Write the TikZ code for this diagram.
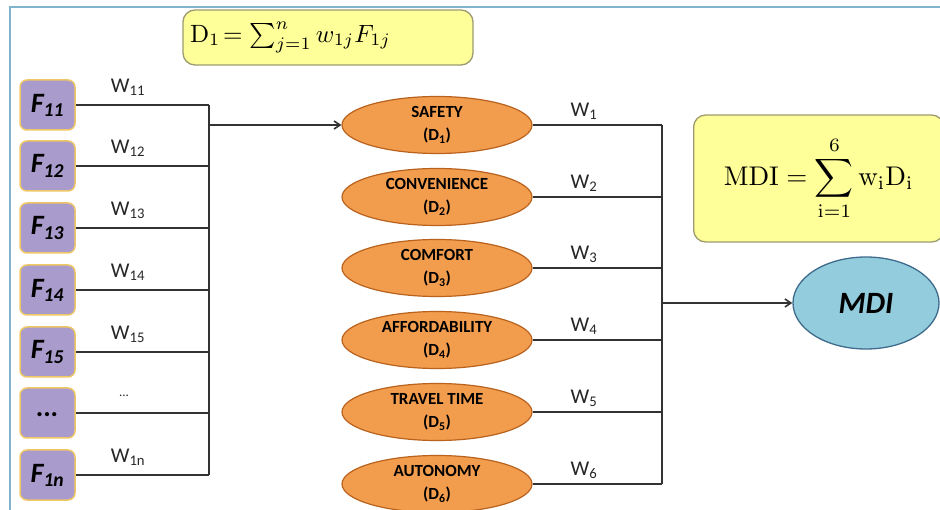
\documentclass[tikz,border=0pt]{standalone}
\usepackage{amsmath}
\usepackage[no-math]{fontspec}
\setmainfont{Carlito}
\usetikzlibrary{shapes.geometric,arrows.meta}
\definecolor{framecol}{HTML}{7FB5CC}
\definecolor{fboxfill}{HTML}{A99BCB}
\definecolor{fboxdraw}{HTML}{EFC766}
\definecolor{dimfill}{HTML}{F29D4E}
\definecolor{dimdraw}{HTML}{B8621E}
\definecolor{eqfill}{HTML}{FFFF99}
\definecolor{eqdraw}{HTML}{9C9A6E}
\definecolor{mdifill}{HTML}{93CDDD}
\definecolor{mdidraw}{HTML}{3F6B8C}
\definecolor{linecol}{HTML}{333333}
\tikzset{
  fbox/.style={draw=fboxdraw, line width=1.5pt, fill=fboxfill, rounded corners=7pt,
    minimum width=55pt, minimum height=50pt, inner sep=0pt,
    font=\fontsize{28}{30}\selectfont\bfseries\itshape},
  dimnode/.style={ellipse, draw=dimdraw, line width=1.2pt, fill=dimfill,
    minimum width=190pt, minimum height=57pt, inner sep=0pt, align=center,
    font=\fontsize{17}{23}\selectfont\bfseries},
  eqbox/.style={draw=eqdraw, line width=1.3pt, fill=eqfill, rounded corners=12pt, inner sep=0pt},
  mdinode/.style={ellipse, draw=mdidraw, line width=1.3pt, fill=mdifill,
    minimum width=146pt, minimum height=92pt, inner sep=0pt,
    font=\fontsize{31}{33}\selectfont\bfseries\itshape},
  wlab/.style={font=\fontsize{21}{23}\selectfont, text=black!85, inner sep=0pt},
  conn/.style={draw=linecol, line width=1.6pt},
  arr/.style={conn, -{Straight Barb[length=6pt,width=8pt]}},
}
\begin{document}
\begin{tikzpicture}[x=1pt,y=-1pt]
\clip (0,0) rectangle (940,510);
\useasboundingbox (0,0) rectangle (940,510);
\fill[white] (0,0) rectangle (940,510);
\draw[framecol, line width=2pt] (10,7) rectangle (970,540);

% top formula
\node[eqbox, minimum width=290pt, minimum height=55pt] (eq1) at (328,37.5)
  {\makebox[276pt][l]{\raisebox{-3pt}{\scalebox{2.5}{$\mathrm{D}_1\!= \textstyle\sum_{j=1}^{n} w_{1j}F_{1j}$}}}};

% F boxes
\node[fbox] (f1) at (47.5,105) {F\textsubscript{11}};
\node[fbox] (f2) at (47.5,166) {F\textsubscript{12}};
\node[fbox] (f3) at (47.5,228) {F\textsubscript{13}};
\node[fbox] (f4) at (47.5,290) {F\textsubscript{14}};
\node[fbox] (f5) at (47.5,352) {F\textsubscript{15}};
\node[fbox] (f6) at (47.5,413) {\raisebox{-8pt}{...}};
\node[fbox] (f7) at (47.5,475) {F\textsubscript{1n}};

\coordinate (busL) at (209,0);
\foreach \i in {1,...,7} {\draw[conn] (f\i.east) -- (f\i.east -| busL);}
\draw[conn] (f1.east -| busL) -- (f7.east -| busL);

\node[wlab] (w11) at (128,87) {W\textsubscript{11}};
\node[wlab] (w12) at (128,148) {W\textsubscript{12}};
\node[wlab] (w13) at (128,210) {W\textsubscript{13}};
\node[wlab] (w14) at (128,272) {W\textsubscript{14}};
\node[wlab] (w15) at (128,334) {W\textsubscript{15}};
\node[wlab, font=\fontsize{13}{13}\selectfont] (w16) at (124,396) {...};
\node[wlab] (w17) at (128,457) {W\textsubscript{1n}};

% dimensions
\node[dimnode] (d1) at (437,125) {SAFETY\\(D\textsubscript{1})};
\node[dimnode] (d2) at (437,197) {CONVENIENCE\\(D\textsubscript{2})};
\node[dimnode] (d3) at (437,268) {COMFORT\\(D\textsubscript{3})};
\node[dimnode] (d4) at (437,340) {AFFORDABILITY\\(D\textsubscript{4})};
\node[dimnode] (d5) at (437,412) {TRAVEL TIME\\(D\textsubscript{5})};
\node[dimnode] (d6) at (437,484) {AUTONOMY\\(D\textsubscript{6})};

\draw[arr] (d1.west -| busL) -- (d1.west);

\coordinate (busR) at (662,0);
\foreach \i in {1,...,6} {\draw[conn] (d\i.east) -- (d\i.east -| busR);}
\draw[conn] (d1.east -| busR) -- (d6.east -| busR);

\node[wlab] (w1) at (584,111) {W\textsubscript{1}};
\node[wlab] (w2) at (584,183) {W\textsubscript{2}};
\node[wlab] (w3) at (584,254) {W\textsubscript{3}};
\node[wlab] (w4) at (584,326) {W\textsubscript{4}};
\node[wlab] (w5) at (584,398) {W\textsubscript{5}};
\node[wlab] (w6) at (584,470) {W\textsubscript{6}};

% MDI
\node[eqbox, minimum width=250pt, minimum height=127pt, anchor=west] (eq2) at (693,178.5)
  {\scalebox{2.7}{$\mathrm{MDI} = \displaystyle\sum_{\mathrm{i}=1}^{6} \mathrm{w_i D_i}$}\hspace{20pt}};
\node[mdinode] (mdi) at (866,303) {MDI};
\draw[arr] (mdi.west -| busR) -- (mdi.west);
\end{tikzpicture}
\end{document}
